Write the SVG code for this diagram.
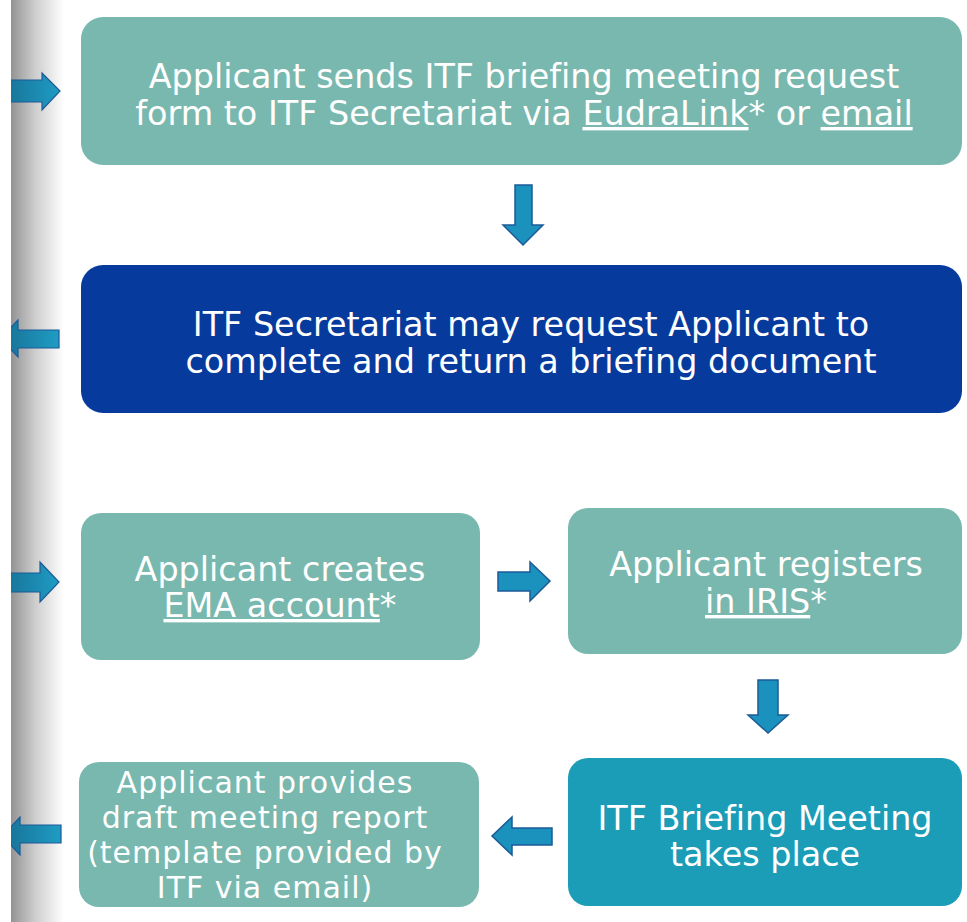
<svg xmlns="http://www.w3.org/2000/svg" width="967" height="922" viewBox="0 0 967 922">
  <defs>
    <linearGradient id="band" x1="11" y1="0" x2="64" y2="0" gradientUnits="userSpaceOnUse">
      <stop offset="0" stop-color="#939393"/>
      <stop offset="0.45" stop-color="#cdcdcd"/>
      <stop offset="1" stop-color="#ffffff"/>
    </linearGradient>
    <linearGradient id="arrowFill" x1="0" y1="0" x2="1" y2="0">
      <stop offset="0" stop-color="#176f93"/>
      <stop offset="1" stop-color="#1f9cc4"/>
    </linearGradient>
    <clipPath id="page">
      <rect x="11" y="0" width="956" height="922"/>
    </clipPath>
  </defs>
  <style>
    .box { stroke: none; }
    .teal { fill: #79b8ae; }
    .navy { fill: #073a9d; }
    .cyan { fill: #1b9db7; }
    .lbl { font-family: "DejaVu Sans", Verdana, sans-serif; font-size: 33.4px; fill: #ffffff; text-anchor: middle; font-variant-ligatures: none; }
    .sm { font-size: 30px; letter-spacing: 1px; }
    .u { text-decoration: underline; }
    .arrow { fill: #1b92bd; stroke: #1c5a98; stroke-width: 1.5; stroke-linejoin: miter; }
    .side { fill: url(#arrowFill); stroke: #1c5a98; stroke-width: 1.2; }
  </style>

  <rect width="967" height="922" fill="#ffffff"/>
  <!-- shaded margin on the left -->
  <rect x="11" y="0" width="53" height="922" fill="url(#band)"/>

  <g id="n1">
    <rect class="box teal" x="81" y="17" width="881" height="148" rx="22"/>
    <text class="lbl"><tspan x="524" y="88">Applicant sends ITF briefing meeting request</tspan><tspan x="524" y="125">form to ITF Secretariat via <tspan class="u">EudraLink</tspan>* or <tspan class="u">email</tspan></tspan></text>
  </g>

  <g id="n2">
    <rect class="box navy" x="81" y="265" width="881" height="148" rx="22"/>
    <text class="lbl"><tspan x="531" y="336">ITF Secretariat may request Applicant to</tspan><tspan x="531" y="373">complete and return a briefing document</tspan></text>
  </g>

  <g id="n3">
    <rect class="box teal" x="81" y="513" width="399" height="147" rx="20"/>
    <text class="lbl"><tspan x="280" y="581">Applicant creates</tspan><tspan x="280" y="617"><tspan class="u">EMA account</tspan>*</tspan></text>
  </g>

  <g id="n4">
    <rect class="box teal" x="568" y="508" width="394" height="146" rx="20"/>
    <text class="lbl"><tspan x="766" y="576">Applicant registers</tspan><tspan x="766" y="613"><tspan class="u">in IRIS</tspan>*</tspan></text>
  </g>

  <g id="n5">
    <rect class="box cyan" x="568" y="758" width="394" height="148" rx="20"/>
    <text class="lbl"><tspan x="765" y="830">ITF Briefing Meeting</tspan><tspan x="765" y="866">takes place</tspan></text>
  </g>

  <g id="n6">
    <rect class="box teal" x="79" y="762" width="400" height="145" rx="20"/>
    <text class="lbl sm" x="265" y="793">Applicant provides</text>
    <text class="lbl sm" x="265" y="828">draft meeting report</text>
    <text class="lbl sm" x="265" y="863">(template provided by</text>
    <text class="lbl sm" x="265" y="898">ITF via email)</text>
  </g>

  <g id="connectors">
    <!-- n1 down to n2 -->
    <polygon class="arrow" points="515,185 532,185 532,225 543,225 523,245 503,225 515,225"/>
    <!-- n3 right to n4 -->
    <polygon class="arrow" points="498,572 530,572 530,562 550,581 530,601 530,591 498,591"/>
    <!-- n4 down to n5 -->
    <polygon class="arrow" points="758,680 778,680 778,715 788,715 768,733 748,715 758,715"/>
    <!-- n5 left to n6 -->
    <polygon class="arrow" points="552,828 512,828 512,817 492,836 512,855 512,845 552,845"/>

    <!-- arrows entering and leaving at the left margin -->
    <g clip-path="url(#page)">
      <polygon class="side" points="0,80 42,80 42,73 60,91 42,110 42,102 0,102"/>
      <polygon class="side" points="59,330 18,330 18,320 0,338 18,357 18,348 59,348"/>
      <polygon class="side" points="0,573 40,573 40,562 59,582 40,602 40,592 0,592"/>
      <polygon class="side" points="61,825 20,825 20,817 2,836 20,855 20,843 61,843"/>
    </g>
  </g>
</svg>
